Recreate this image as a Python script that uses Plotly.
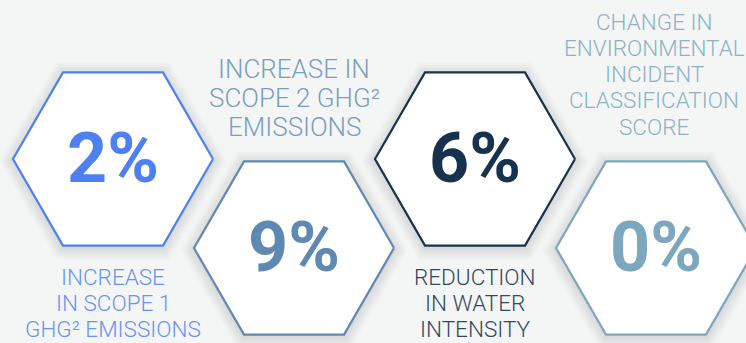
import math
import plotly.graph_objects as go

# Key environmental metrics
values = [2, 9, 6, 0]
captions = [
    ["INCREASE", "IN SCOPE 1", "GHG² EMISSIONS"],
    ["INCREASE IN", "SCOPE 2 GHG²", "EMISSIONS"],
    ["REDUCTION", "IN WATER", "INTENSITY"],
    ["CHANGE IN", "ENVIRONMENTAL", "INCIDENT", "CLASSIFICATION", "SCORE"],
]
edge_colors = ["#4f80f1", "#5f89b3", "#17324f", "#7ca7be"]
caption_colors = ["#6a93f1", "#7a9dc1", "#34475d", "#8db2c7"]
caption_sizes = [22.5, 26, 22.5, 22.5]
caption_steps = [26.2, 28.6, 26.2, 26.2]

W, H = 746, 343
R = 100            # hexagon circumradius (px)
X0, DX = 113, 181  # first centre and horizontal step
Y_HIGH, Y_LOW = 159, 248

fig = go.Figure()


def hexagon(cx, cy, r):
    xs, ys = [], []
    for k in range(7):
        a = math.radians(60 * k)
        xs.append(cx + r * math.cos(a))
        ys.append(cy + r * math.sin(a))
    return xs, ys


annotations = []
for i, v in enumerate(values):
    cx = X0 + i * DX
    cy = Y_HIGH if i % 2 == 0 else Y_LOW

    # soft shadow halo
    for s in range(14, 0, -1):
        xs, ys = hexagon(cx, cy + 2, R + s)
        fig.add_trace(go.Scatter(x=xs, y=ys, mode="lines", fill="toself",
                                 fillcolor="rgba(60,70,80,0.012)",
                                 line=dict(width=0), hoverinfo="skip",
                                 showlegend=False))
    xs, ys = hexagon(cx, cy, R)
    fig.add_trace(go.Scatter(x=xs, y=ys, mode="lines", fill="toself",
                             fillcolor="#ffffff",
                             line=dict(color=edge_colors[i], width=2.2),
                             hoverinfo="skip", showlegend=False))

    annotations.append(dict(
        x=cx, y=cy - 1, xref="x", yref="y", text=f"<b>{v}%</b>",
        showarrow=False, xanchor="center", yanchor="middle",
        font=dict(family="Roboto", size=70, color=edge_colors[i])))

    lines = captions[i]
    size = caption_sizes[i]
    step = caption_steps[i]
    tx = cx if i < 3 else cx - 2
    if i % 2 == 0:
        first = cy + 118
    else:
        first = cy - 121.5 - step * (len(lines) - 1)
    for j, t in enumerate(lines):
        annotations.append(dict(
            x=tx, y=first + j * step, xref="x", yref="y", text=t,
            showarrow=False, xanchor="center", yanchor="middle",
            font=dict(family="Roboto", size=size, weight=300,
                      color=caption_colors[i])))

fig.update_layout(
    width=W, height=H,
    margin=dict(l=0, r=0, t=0, b=0),
    paper_bgcolor="#f4f6f6", plot_bgcolor="#f4f6f6",
    xaxis=dict(range=[0, W], visible=False, fixedrange=True),
    yaxis=dict(range=[H, 0], visible=False, fixedrange=True),
    annotations=annotations,
    showlegend=False,
)

fig.write_html("out.html", config={"displayModeBar": False})
